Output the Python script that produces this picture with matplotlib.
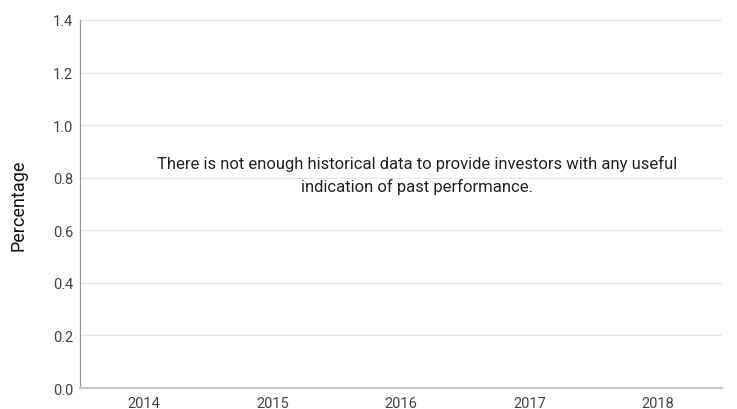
import numpy as np
import matplotlib.pyplot as plt

years = ['2014', '2015', '2016', '2017', '2018']
returns = [np.nan, np.nan, np.nan, np.nan, np.nan]  # no history available
yticks = [0.0, 0.2, 0.4, 0.6, 0.8, 1.0, 1.2, 1.4]
message = ("There is not enough historical data to provide investors with any useful\n"
           "indication of past performance.")

plt.rcParams['font.family'] = ['Roboto', 'DejaVu Sans']

fig = plt.figure(figsize=(7.37, 4.10), dpi=100)
ax = fig.add_axes([0.1085, 0.0512, 0.871, 0.8976])

x = np.arange(len(years))
ax.bar(x, returns, color='#1f5fa8')

ax.set_xlim(-0.5, len(years) - 0.5)
ax.set_ylim(0, 1.4)
ax.set_yticks(yticks)
ax.set_yticklabels([f'{v:.1f}' for v in yticks])
ax.set_xticks(x)
ax.set_xticklabels(years)

ax.grid(axis='y', color='#e6e6e6', linewidth=0.9)
ax.set_axisbelow(True)
for s in ['top', 'right']:
    ax.spines[s].set_visible(False)
ax.spines['left'].set_color('#999999')
ax.spines['left'].set_linewidth(0.9)
ax.spines['bottom'].set_color('#c8c8c8')
ax.spines['bottom'].set_linewidth(1.6)
ax.tick_params(length=0, labelsize=10.5, colors='#444444', pad=6)
ax.tick_params(axis='y', pad=5)

ax.set_ylabel('Percentage', fontsize=13, color='#111111', labelpad=18)

ax.text(0.525, 0.58, message, transform=ax.transAxes, ha='center', va='center',
        fontsize=12, color='#222222', linespacing=1.6)

fig.savefig('out.png', dpi=100)
